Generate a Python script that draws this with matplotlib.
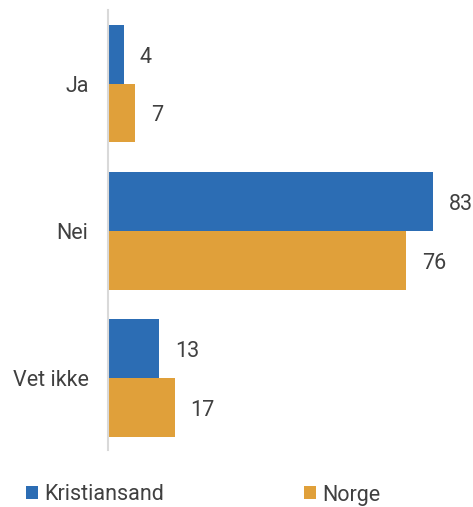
import numpy as np
import matplotlib.pyplot as plt

# data
categories = ['Ja', 'Nei', 'Vet ikke']
kristiansand = [4, 83, 13]
norge = [7, 76, 17]
series_names = ['Kristiansand', 'Norge']

blue = '#2c6db4'
orange = '#e0a03a'
txt = '#404040'

plt.rcParams['font.family'] = ['Roboto', 'DejaVu Sans']

fig = plt.figure(figsize=(4.73, 5.07), dpi=100)
ax = fig.add_axes([108/473, 1 - 450/507, 1 - 108/473, 440/507])

y = np.arange(len(categories))
h = 0.4
b1 = ax.barh(y - h/2, kristiansand, height=h, color=blue, label=series_names[0])
b2 = ax.barh(y + h/2, norge, height=h, color=orange, label=series_names[1])

for bars, vals in [(b1, kristiansand), (b2, norge)]:
    for r, v in zip(bars, vals):
        ax.text(r.get_width() + 4.1, r.get_y() + r.get_height()/2 + 0.02, str(v),
                ha='left', va='center', fontsize=15.5, color=txt)

ax.set_xlim(0, 93.2)
ax.set_ylim(2.49, -0.5)
ax.set_yticks(y)
ax.set_yticklabels(categories, fontsize=15.5, color=txt)
ax.tick_params(axis='y', length=0, pad=14)
ax.set_xticks([])
for s in ['top', 'right', 'bottom']:
    ax.spines[s].set_visible(False)
ax.spines['left'].set_color('#d9d9d9')
ax.spines['left'].set_linewidth(1.5)

fig.legend(handles=[b1, b2], loc='center left',
           bbox_to_anchor=(26/473, 1 - 495/507), ncol=2, frameon=False,
           fontsize=15.5, labelcolor=txt, borderpad=0, borderaxespad=0,
           handlelength=0.55, handleheight=0.55, handletextpad=0.3,
           columnspacing=6.5)

fig.savefig('out.png', dpi=100)
